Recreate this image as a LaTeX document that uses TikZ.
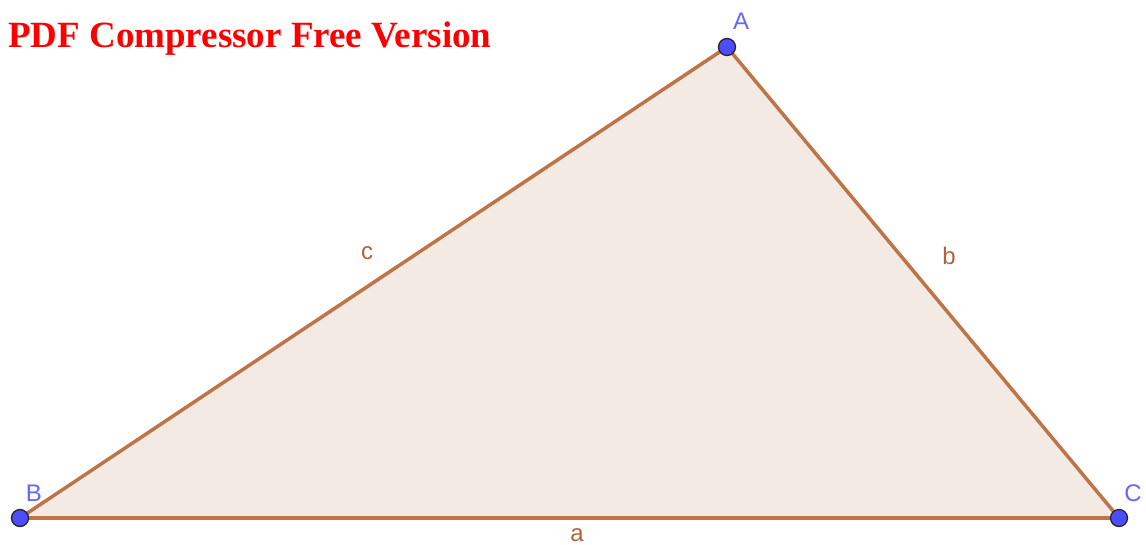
\documentclass[tikz,border=0pt]{standalone}
\usepackage{fontspec}
\setmainfont{Liberation Serif}
\newfontfamily\labfont{Liberation Sans}
\definecolor{edgecol}{HTML}{BF7448}
\definecolor{labcol}{HTML}{B0623A}
\definecolor{fillcol}{HTML}{F4EAE4}
\definecolor{ptcol}{HTML}{4D4DFF}
\definecolor{ptlab}{HTML}{6666FF}
\tikzset{
  pt/.style={circle, fill=ptcol, draw=black!85, line width=1.3pt, inner sep=0pt, minimum size=17pt},
  ptname/.style={text=ptlab, font=\labfont\fontsize{24}{24}\selectfont, inner sep=0pt},
  edgename/.style={text=labcol, font=\labfont\fontsize{24}{24}\selectfont, inner sep=0pt},
  side/.style={draw=edgecol, line width=3.5pt, line cap=round}
}
\begin{document}
\begin{tikzpicture}[x=1pt,y=-1pt]
\useasboundingbox (0,0) rectangle (1146,544);
\coordinate (A) at (727,47);
\coordinate (B) at (20,518);
\coordinate (C) at (1119,518);
\fill[fillcol] (A) -- (B) -- (C) -- cycle;
\draw[side] (B) -- (C);
\draw[side] (C) -- (A);
\draw[side] (A) -- (B);
\node[edgename] (la) at (577,535) {a};
\node[edgename] (lb) at (949,256) {b};
\node[edgename] (lc) at (367,253) {c};
\node[pt] (pA) at (A) {};
\node[pt] (pB) at (B) {};
\node[pt] (pC) at (C) {};
\node[ptname] (nA) at (741,21) {A};
\node[ptname] (nB) at (34,493) {B};
\node[ptname] (nC) at (1133,493) {C};
\node[anchor=base west, inner sep=0pt, text=red, font=\bfseries\fontsize{37}{37}\selectfont] (title) at (8,47) {PDF Compressor Free Version};
\end{tikzpicture}
\end{document}
